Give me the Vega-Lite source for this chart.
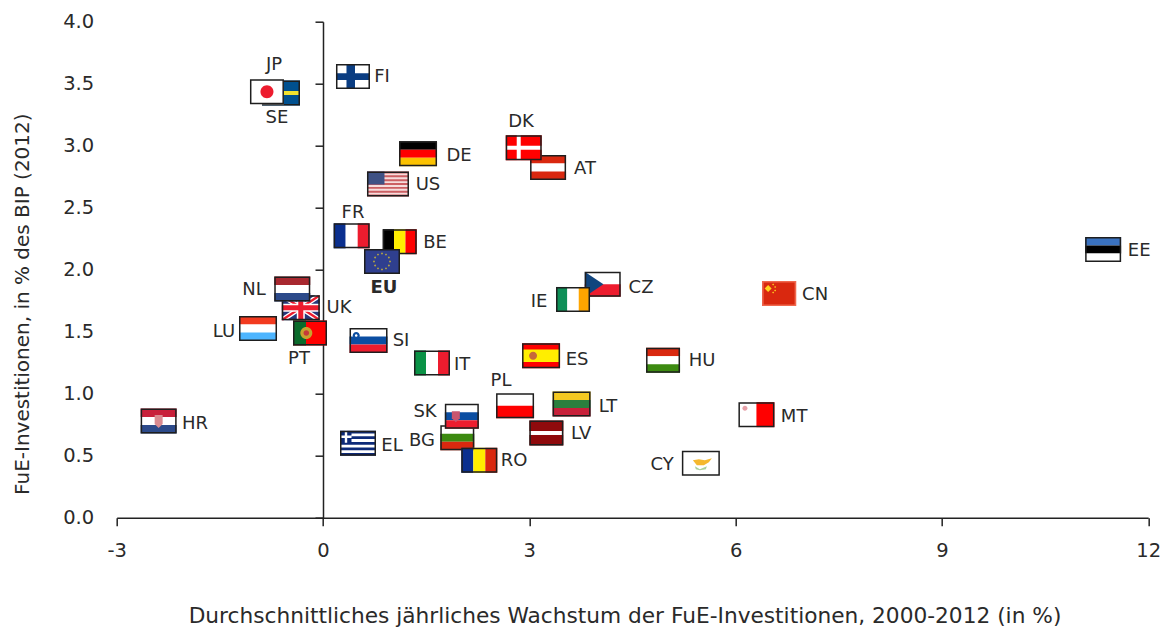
{"$schema":"https://vega.github.io/schema/vega-lite/v6.json","width":1031.5,"height":496,"autosize":"none","padding":{"left":116.7,"top":21.7,"right":13,"bottom":109},"background":"white","data":{"values":[
{"code":"SE","x":-0.611,"y":3.425,"lx":-0.669,"ly":3.231,"parts":["f38","seh","r38"],"cols":["seblue","seyellow","frame"]},
{"code":"JP","x":-0.815,"y":3.435,"lx":-0.713,"ly":3.659,"parts":["f34","jpc","r34"],"cols":["white","crimson","frame"]},
{"code":"FI","x":0.436,"y":3.558,"lx":0.858,"ly":3.562,"parts":["f34","fih","fiv","r34"],"cols":["white","fiblue","fiblue","frame"]},
{"code":"DE","x":1.382,"y":2.935,"lx":1.978,"ly":2.925,"parts":["t38","m38","b38","r38"],"cols":["black","red","gold","frame"]},
{"code":"US","x":0.945,"y":2.691,"lx":1.527,"ly":2.691,"parts":["f42","uss","usc","r42"],"cols":["uspink","usred","usblue","frame"]},
{"code":"BE","x":1.116,"y":2.226,"lx":1.629,"ly":2.223,"parts":["l34","c34","e34","r34"],"cols":["black","yellow","red","frame"]},
{"code":"FR","x":0.417,"y":2.273,"lx":0.436,"ly":2.465,"parts":["l36","c36","e36","r36"],"cols":["navy","white","crimson","frame"]},
{"code":"EU","x":0.858,"y":2.066,"lx":0.887,"ly":1.86,"parts":["f36","eus","r36"],"cols":["eublue","eugold","frame"]},
{"code":"UK","x":-0.323,"y":1.693,"lx":0.233,"ly":1.699,"parts":["f38","ukd","ukr","ukw","ukx","r38"],"cols":["ukblue","white","crimson","white","crimson","frame"]},
{"code":"NL","x":-0.447,"y":1.844,"lx":-1.004,"ly":1.844,"parts":["t36","m36","b36","r36"],"cols":["dutchred","white","slate","frame"]},
{"code":"LU","x":-0.945,"y":1.526,"lx":-1.44,"ly":1.506,"parts":["t38","m38","b38","r38"],"cols":["lured","white","lublue","frame"]},
{"code":"PT","x":-0.189,"y":1.49,"lx":-0.349,"ly":1.288,"parts":["f34","ptl","ptm","pti","r34"],"cols":["red","ptgreen","ptgold","ptinner","frame"]},
{"code":"SI","x":0.662,"y":1.429,"lx":1.135,"ly":1.433,"parts":["t38","m38","b38","sim","sii","r38"],"cols":["white","royal","crimson","royal","white","frame"]},
{"code":"IT","x":1.585,"y":1.248,"lx":2.022,"ly":1.24,"parts":["l36","c36","e36","r36"],"cols":["itgreen","white","crimson","frame"]},
{"code":"ES","x":3.171,"y":1.306,"lx":3.695,"ly":1.28,"parts":["f38","esb","esm","r38"],"cols":["red","yellow","esemblem","frame"]},
{"code":"AT","x":3.273,"y":2.824,"lx":3.811,"ly":2.82,"parts":["t36","m36","b36","r36"],"cols":["brick","white","brick","frame"]},
{"code":"DK","x":2.919,"y":2.984,"lx":2.88,"ly":3.199,"parts":["f36","dkh","dkv","r36"],"cols":["red","white","white","frame"]},
{"code":"CZ","x":4.068,"y":1.882,"lx":4.625,"ly":1.86,"parts":["f36","hb36","czt","r36"],"cols":["white","crimson","czblue","frame"]},
{"code":"IE","x":3.636,"y":1.76,"lx":3.142,"ly":1.748,"parts":["l34","c34","e34","r34"],"cols":["iegreen","white","orange","frame"]},
{"code":"PL","x":2.793,"y":0.902,"lx":2.589,"ly":1.11,"parts":["f38","hb38","r38"],"cols":["white","red","frame"]},
{"code":"BG","x":1.953,"y":0.645,"lx":1.44,"ly":0.627,"parts":["t34","m34","b34","r34"],"cols":["white","hugreen","brick","frame"]},
{"code":"SK","x":2.019,"y":0.818,"lx":1.484,"ly":0.86,"parts":["t34","m34","b34","skm","r34"],"cols":["white","royal","crimson","skemblem","frame"]},
{"code":"RO","x":2.273,"y":0.463,"lx":2.778,"ly":0.465,"parts":["l36","c36","e36","r36"],"cols":["navy","yellow","brick","frame"]},
{"code":"EL","x":0.509,"y":0.6,"lx":1.004,"ly":0.586,"parts":["f36","els","r36"],"cols":["elblue","white","frame"]},
{"code":"LT","x":3.615,"y":0.917,"lx":4.145,"ly":0.901,"parts":["t38","m38","b38","r38"],"cols":["ltyellow","ltgreen","ltred","frame"]},
{"code":"LV","x":3.248,"y":0.683,"lx":3.753,"ly":0.683,"parts":["f34","lvb","r34"],"cols":["maroon","white","frame"]},
{"code":"HU","x":4.945,"y":1.269,"lx":5.513,"ly":1.272,"parts":["t34","m34","b34","r34"],"cols":["brick","white","hugreen","frame"]},
{"code":"MT","x":6.303,"y":0.831,"lx":6.851,"ly":0.82,"parts":["f36","rh36","mtm","r36"],"cols":["white","red","mtemblem","frame"]},
{"code":"CY","x":5.495,"y":0.439,"lx":4.931,"ly":0.433,"parts":["f38","cyi","cyl","r38"],"cols":["white","cyisle","cyleaf","frame"]},
{"code":"CN","x":6.633,"y":1.808,"lx":7.156,"ly":1.804,"parts":["f34","cnb","cns","r34"],"cols":["brick","cnstar","cnstar","cnframe"]},
{"code":"EE","x":11.345,"y":2.163,"lx":11.869,"ly":2.159,"parts":["t36","m36","b36","r36"],"cols":["eeblue","black","white","frame"]},
{"code":"HR","x":-2.39,"y":0.78,"lx":-1.862,"ly":0.764,"parts":["t36","m36","b36","hrm","r36"],"cols":["ltred","white","slate","hremblem","frame"]}
]},
"layer":[
{"mark":{"type":"point","opacity":0},"encoding":{
"x":{"field":"x","type":"quantitative","scale":{"domain":[-3,12],"nice":false,"zero":false},"axis":{"title":"Durchschnittliches jährliches Wachstum der FuE-Investitionen, 2000-2012 (in %)","titleFont":"DejaVu Sans","titleFontSize":21.7,"titleFontWeight":"normal","titleColor":"#2a2a2a","titleX":507.8,"titleY":97.5,"titleAlign":"center","titleBaseline":"middle","values":[-3,0,3,6,9,12],"labelExpr":"''+datum.value","grid":false,"domainColor":"#222222","domainWidth":1.5,"tickColor":"#222222","tickWidth":1.5,"tickSize":8,"labelPadding":16,"labelFont":"DejaVu Sans","labelFontSize":19.5,"labelColor":"#2a2a2a","labelFlush":false,"labelOverlap":false}},
"y":{"field":"y","type":"quantitative","scale":{"domain":[0,4],"nice":false,"zero":false},"axis":{"orient":"left","title":null,"offset":-206.3,"values":[0,0.5,1,1.5,2,2.5,3,3.5,4],"labels":false,"grid":false,"domainColor":"#222222","domainWidth":1.5,"tickColor":"#222222","tickWidth":1.5,"tickSize":8}}}},
{"transform":[{"flatten":["parts","cols"]}],"mark":{"type":"point","filled":true,"opacity":1,"size":4,"strokeWidth":0},"encoding":{
"x":{"field":"x","type":"quantitative","scale":{"domain":[-3,12],"nice":false,"zero":false},"axis":null},
"y":{"field":"y","type":"quantitative","scale":{"domain":[0,4],"nice":false,"zero":false},"axis":{"orient":"left","title":"FuE-Investitionen, in % des BIP (2012)","titleFont":"DejaVu Sans","titleFontSize":20,"titleFontWeight":"normal","titleColor":"#2a2a2a","titleX":-94.7,"titleY":282,"titleAlign":"center","titleBaseline":"middle","values":[0,0.5,1,1.5,2,2.5,3,3.5,4],"format":".1f","grid":false,"domain":false,"ticks":false,"labelPadding":23,"labelFont":"DejaVu Sans","labelFontSize":19.5,"labelColor":"#2a2a2a","labelOverlap":false}},
"shape":{"field":"parts","type":"nominal","legend":null,"scale":{"domain":["f34","f36","f38","f42","r34","r36","r38","r42","t34","m34","b34","t36","m36","b36","t38","m38","b38","l34","c34","e34","l36","c36","e36","hb36","hb38","rh36","czt","fih","fiv","seh","jpc","dkh","dkv","ukd","ukr","ukw","ukx","uss","usc","els","eus","lvb","esb","esm","skm","hrm","ptl","ptm","pti","sim","sii","mtm","cyi","cyl","cnb","cns"],"range":[
"M -17 -12.5 H 17 V 12.5 H -17 Z","M -18 -12.5 H 18 V 12.5 H -18 Z","M -19 -12.5 H 19 V 12.5 H -19 Z","M -21 -12.5 H 21 V 12.5 H -21 Z",
"M -17 -12.5 H 17 V 12.5 H -17 Z M -15.5 -11 V 11 H 15.5 V -11 Z","M -18 -12.5 H 18 V 12.5 H -18 Z M -16.5 -11 V 11 H 16.5 V -11 Z","M -19 -12.5 H 19 V 12.5 H -19 Z M -17.5 -11 V 11 H 17.5 V -11 Z","M -21 -12.5 H 21 V 12.5 H -21 Z M -19.5 -11 V 11 H 19.5 V -11 Z",
"M -17 -12.5 H 17 V -4 H -17 Z","M -17 -4 H 17 V 4 H -17 Z","M -17 4 H 17 V 12.5 H -17 Z",
"M -18 -12.5 H 18 V -4 H -18 Z","M -18 -4 H 18 V 4 H -18 Z","M -18 4 H 18 V 12.5 H -18 Z",
"M -19 -12.5 H 19 V -4 H -19 Z","M -19 -4 H 19 V 4 H -19 Z","M -19 4 H 19 V 12.5 H -19 Z",
"M -17 -12.5 H -5.7 V 12.5 H -17 Z","M -5.7 -12.5 H 5.7 V 12.5 H -5.7 Z","M 5.7 -12.5 H 17 V 12.5 H 5.7 Z",
"M -18 -12.5 H -6 V 12.5 H -18 Z","M -6 -12.5 H 6 V 12.5 H -6 Z","M 6 -12.5 H 18 V 12.5 H 6 Z",
"M -18 0 H 18 V 12.5 H -18 Z","M -19 0 H 19 V 12.5 H -19 Z","M 0 -12.5 H 18 V 12.5 H 0 Z",
"M -18 -12.5 L 0.7 0 L -18 12.5 Z",
"M -17 -3.2 H 17 V 3.5 H -17 Z","M -6.5 -12.5 H 2 V 12.5 H -6.5 Z",
"M -19 -2 H 19 V 2 H -19 Z",
"M -6.5 0 A 6.5 6.5 0 1 0 6.5 0 A 6.5 6.5 0 1 0 -6.5 0 Z",
"M -18 -2 H 18 V 2 H -18 Z","M -7 -12.5 H -3 V 12.5 H -7 Z",
"M -19 -12.5 L -14.5 -12.5 L 19 9.5 L 19 12.5 L 14.5 12.5 L -19 -9.5 Z M 19 -12.5 L 19 -9.5 L -14.5 12.5 L -19 12.5 L -19 9.5 L 14.5 -12.5 Z",
"M -19 -12.5 L -17 -12.5 L 19 11 L 19 12.5 L 17 12.5 L -19 -11 Z M 19 -12.5 L 19 -11 L -17 12.5 L -19 12.5 L -19 11 L 17 -12.5 Z",
"M -4 -12.5 H 4 V -4 H 19 V 4 H 4 V 12.5 H -4 V 4 H -19 V -4 H -4 Z",
"M -2.5 -12.5 H 2.5 V -2.5 H 19 V 2.5 H 2.5 V 12.5 H -2.5 V 2.5 H -19 V -2.5 H -2.5 Z",
"M -21 -12.5 H 21 V -10.6 H -21 Z M -21 -8.65 H 21 V -6.73 H -21 Z M -21 -4.81 H 21 V -2.88 H -21 Z M -21 -0.96 H 21 V 0.96 H -21 Z M -21 2.88 H 21 V 4.81 H -21 Z M -21 6.73 H 21 V 8.65 H -21 Z M -21 10.58 H 21 V 12.5 H -21 Z",
"M -21 -12.5 H -3.5 V 0.5 H -21 Z",
"M -6.5 -9.72 H 18 V -6.94 H -6.5 Z M -6.5 -4.17 H 18 V -1.39 H -6.5 Z M -18 1.39 H 18 V 4.17 H -18 Z M -18 6.94 H 18 V 9.72 H -18 Z M -13.2 -12.5 H -10.8 V -0.5 H -13.2 Z M -18 -7.7 H -6.5 V -5.3 H -18 Z",
"M 0 -9.2 L 1.1 -8 L 0 -6.8 L -1.1 -8 Z M 4 -8.1 L 5.1 -6.9 L 4 -5.7 L 2.9 -6.9 Z M 6.9 -5.2 L 8 -4 L 6.9 -2.8 L 5.8 -4 Z M 8 -1.2 L 9.1 0 L 8 1.2 L 6.9 0 Z M 6.9 2.8 L 8 4 L 6.9 5.2 L 5.8 4 Z M 4 5.7 L 5.1 6.9 L 4 8.1 L 2.9 6.9 Z M 0 6.8 L 1.1 8 L 0 9.2 L -1.1 8 Z M -4 5.7 L -2.9 6.9 L -4 8.1 L -5.1 6.9 Z M -6.9 2.8 L -5.8 4 L -6.9 5.2 L -8 4 Z M -8 -1.2 L -6.9 0 L -8 1.2 L -9.1 0 Z M -6.9 -5.2 L -5.8 -4 L -6.9 -2.8 L -8 -4 Z M -4 -8.1 L -2.9 -6.9 L -4 -5.7 L -5.1 -6.9 Z",
"M -17 -2 H 17 V 2 H -17 Z",
"M -19 -6.3 H 19 V 6.3 H -19 Z",
"M -12 0 A 4 4 0 1 0 -4 0 A 4 4 0 1 0 -12 0 Z",
"M -10 -5 H -2 V 2 L -6 6 L -10 2 Z",
"M -4 -6 H 4 V 3 L 0 7 L -4 3 Z",
"M -17 -12.5 H -4 V 12.5 H -17 Z",
"M -9.7 0 A 6 6 0 1 0 2.3 0 A 6 6 0 1 0 -9.7 0 Z",
"M -6.5 0 A 2.8 2.8 0 1 0 -0.9 0 A 2.8 2.8 0 1 0 -6.5 0 Z",
"M -15.8 -5 A 3.5 3.5 0 1 0 -8.8 -5 A 3.5 3.5 0 1 0 -15.8 -5 Z",
"M -13.6 -5 A 1.3 1.3 0 1 0 -11 -5 A 1.3 1.3 0 1 0 -13.6 -5 Z",
"M -14 -6.5 A 2.5 2.5 0 1 0 -9 -6.5 A 2.5 2.5 0 1 0 -14 -6.5 Z",
"M -8 -3 L -2 -4 L 4 -3 L 11 -5 L 8 -1 L 3 2 L -4 2 Z",
"M -6 3 L -1 6 L 6 3 L 5 6 L -1 7 L -5 6 Z",
"M -11 -8.5 L -7.5 -5 L -11 -1.5 L -14.5 -5 Z",
"M -6 -10 L -5 -9 L -6 -8 L -7 -9 Z M -4 -7.5 L -3 -6.5 L -4 -5.5 L -5 -6.5 Z M -4 -4 L -3 -3 L -4 -2 L -5 -3 Z M -6 -2 L -5 -1 L -6 0 L -7 -1 Z"
]}},
"color":{"field":"cols","type":"nominal","legend":null,"scale":{"domain":["frame","white","black","red","crimson","brick","maroon","dutchred","ltred","lured","navy","royal","slate","ukblue","usblue","eublue","elblue","fiblue","seblue","eeblue","lublue","czblue","itgreen","iegreen","hugreen","ptgreen","ltgreen","yellow","gold","ltyellow","seyellow","orange","eugold","esemblem","skemblem","hremblem","ptgold","ptinner","mtemblem","usred","uspink","cyisle","cyleaf","cnstar","cnframe"],"range":["#1e1e1e","#ffffff","#000000","#ff0000","#ed1c2e","#d9280f","#8f0a0c","#a8282f","#c8203a","#f23a1f","#0a2f8f","#0b4ea2","#2c4a8a","#27377a","#3f5185","#2f3f8f","#0d2a78","#0a3d82","#00508f","#3a72c0","#4db5ff","#11457e","#0a9246","#0e8f57","#3c8a10","#0a6b2b","#2a7f3e","#ffee00","#fcc200","#f5c921","#f2e22e","#ffa500","#b5a642","#c66a3a","#c9566f","#d98a90","#c7a32e","#c63a3a","#e6a0a8","#cc5f63","#f6dcdc","#f5b82e","#a8d09a","#ffd21f","#f0684e"]}}}},
{"transform":[{"filter":"datum.code !== 'EU'"}],"mark":{"type":"text","font":"DejaVu Sans","fontSize":18,"dy":1,"color":"#2a2a2a","align":"center","baseline":"middle"},"encoding":{
"x":{"field":"lx","type":"quantitative","scale":{"domain":[-3,12],"nice":false,"zero":false},"axis":null},
"y":{"field":"ly","type":"quantitative","scale":{"domain":[0,4],"nice":false,"zero":false},"axis":null},
"text":{"field":"code","type":"nominal"}}},
{"transform":[{"filter":"datum.code === 'EU'"}],"mark":{"type":"text","font":"DejaVu Sans","fontSize":18,"dy":1,"fontWeight":"bold","color":"#2a2a2a","align":"center","baseline":"middle"},"encoding":{
"x":{"field":"lx","type":"quantitative","scale":{"domain":[-3,12],"nice":false,"zero":false},"axis":null},
"y":{"field":"ly","type":"quantitative","scale":{"domain":[0,4],"nice":false,"zero":false},"axis":null},
"text":{"field":"code","type":"nominal"}}}
],
"resolve":{"axis":{"x":"independent","y":"independent"}},
"config":{"view":{"stroke":null}}}
